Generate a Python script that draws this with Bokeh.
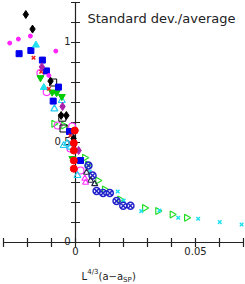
import numpy as np
from bokeh.plotting import figure
from bokeh.models import Range1d, Label
from bokeh.core.properties import value
from bokeh.embed import file_html
from bokeh.resources import INLINE

# ---------------- data ----------------
x_ticks = [-0.03, -0.02, -0.01, 0.0, 0.01, 0.02, 0.03, 0.04, 0.05, 0.06, 0.07]
y_ticks = [0.0, 0.1, 0.2, 0.3, 0.4, 0.5, 0.6, 0.7, 0.8, 0.9, 1.0, 1.1, 1.2]
x_label_pos = [0.0, 0.05]
x_label_txt = ["0", "0.05"]
y_label_pos = [0.0, 0.5, 1.0]
y_label_txt = ["0", "0.5", "1"]

black_diamond_x = [-0.0207, -0.0179, -0.0104, -0.0060, -0.0038, -0.0008]
black_diamond_y = [1.14, 1.067, 0.807, 0.635, 0.635, 0.52]

magenta_star_x = [-0.0274, -0.0238, -0.0188, -0.0082, -0.0111]
magenta_star_y = [0.997, 1.017, 1.032, 0.957, 0.835]

blue_square_x = [-0.0235, -0.0186, -0.0138, -0.0121, -0.0071, -0.0093, -0.0025, 0.0021]
blue_square_y = [0.944, 0.96, 0.912, 0.858, 0.777, 0.707, 0.555, 0.41]

cyan_tri_x = [-0.0165, -0.0132]
cyan_tri_y = [0.987, 0.775]

red_x_x = [-0.0175, -0.0143, -0.0111, -0.0021]
red_x_y = [0.924, 0.854, 0.769, 0.535]

purple_diamond_x = [-0.0140, -0.0054, 0.0013]
purple_diamond_y = [0.878, 0.68, 0.46]

magenta_circle_x = [-0.0146, -0.0120, -0.0074, -0.0014, -0.0021, 0.0021]
magenta_circle_y = [0.847, 0.752, 0.585, 0.58, 0.47, 0.36]

green_tri_down_x = [-0.0146, -0.0097, -0.0079, -0.0057, -0.0013]
green_tri_down_y = [0.824, 0.752, 0.749, 0.73, 0.42]

cyan_tri_open_x = [-0.0057, -0.0088, -0.0035, -0.0049, -0.0021, 0.0008]
cyan_tri_open_y = [0.71, 0.668, 0.494, 0.485, 0.477, 0.335]

black_square_open_x = [-0.0093, -0.0055, -0.0050]
black_square_open_y = [0.80, 0.624, 0.57]

green_tri_right_x = [-0.0090, -0.0049, 0.0038, 0.0051, 0.0093, 0.0121, 0.0185, 0.0288, 0.0343, 0.0403, 0.0463]
green_tri_right_y = [0.594, 0.585, 0.424, 0.39, 0.31, 0.265, 0.215, 0.173, 0.157, 0.14, 0.124]

cyan_x_x = [0.0060, 0.0176, 0.0201, 0.0274, 0.0350, 0.0428, 0.0511, 0.0601, 0.0692]
cyan_x_y = [0.355, 0.255, 0.21, 0.157, 0.16, 0.124, 0.119, 0.102, 0.09]

blue_circle_x_x = [0.0054, 0.0071, 0.0088, 0.0115, 0.0143, 0.0171, 0.0199, 0.0229]
blue_circle_x_y = [0.385, 0.335, 0.257, 0.247, 0.247, 0.207, 0.184, 0.184]

red_circle_x = [-0.0003, -0.0007, -0.0007, -0.0007, -0.0007]
red_circle_y = [0.56, 0.497, 0.46, 0.41, 0.369]

dark_tri_x = [0.0046, 0.0063, 0.0080]
dark_tri_y = [0.35, 0.31, 0.293]

magenta_tri_x = [0.0039, 0.0042]
magenta_tri_y = [0.32, 0.30]

# ---------------- figure ----------------
W, H = 245, 284
p = figure(width=W, height=H, output_backend="svg", toolbar_location=None,
           x_axis_type=None, y_axis_type=None, min_border=0,
           x_range=Range1d(-0.03125, 0.070833), y_range=Range1d(-0.21, 1.21))
p.outline_line_color = None
p.grid.visible = False
p.background_fill_color = "white"

FONT = value("DejaVu Sans")
AX = "#222222"

# axes lines through origin
p.segment(x0=[x_ticks[0], 0.0], y0=[0.0, 0.0], x1=[x_ticks[-1], 0.0], y1=[0.0, y_ticks[-1]],
          line_color=AX, line_width=1.2)
# crossing tick marks
p.scatter(x=[0.0] * len(y_ticks), y=y_ticks, marker="dash", size=9, line_color=AX, line_width=1.2)
p.scatter(x=x_ticks, y=[0.0] * len(x_ticks), marker="dash", angle=np.pi / 2, size=9,
          line_color=AX, line_width=1.2)

# tick labels
p.text(x=[0.0] * len(y_label_pos), y=y_label_pos, text=y_label_txt, text_align="right",
       text_baseline="middle", x_offset=-5, y_offset=-2, text_font=FONT,
       text_font_size="10px", text_color="#222222")
p.text(x=x_label_pos, y=[0.0] * len(x_label_pos), text=x_label_txt, text_align="center",
       text_baseline="top", y_offset=4, text_font=FONT, text_font_size="10px", text_color="#222222")

# ---------------- data marks ----------------
p.scatter(green_tri_right_x, green_tri_right_y, marker="triangle", angle=-np.pi / 2, size=7,
          fill_color=None, line_color="#22dd22", line_width=1.2)
p.scatter(cyan_x_x, cyan_x_y, marker="x", size=5, line_color="#22e0f0", line_width=1.5)
p.scatter(blue_circle_x_x, blue_circle_x_y, marker="circle_x", size=7, fill_color=None,
          line_color="#2222cc", line_width=1.5)
p.scatter(magenta_circle_x, magenta_circle_y, marker="circle", size=7, fill_color=None,
          line_color="#ff33ff", line_width=1.2)
p.scatter(cyan_tri_open_x, cyan_tri_open_y, marker="triangle", size=7, fill_color=None,
          line_color="#22ccee", line_width=1.2)
p.scatter(black_square_open_x, black_square_open_y, marker="square", size=7, fill_color=None,
          line_color="black", line_width=1.0)
p.scatter(dark_tri_x, dark_tri_y, marker="triangle", size=6, fill_color=None,
          line_color="#222244", line_width=1.2)
p.scatter(magenta_tri_x, magenta_tri_y, marker="triangle", size=6, fill_color=None,
          line_color="#ff33ff", line_width=1.2)
p.scatter(green_tri_down_x, green_tri_down_y, marker="inverted_triangle", size=7,
          fill_color="#00cc00", line_color="#00cc00")
p.scatter(blue_square_x, blue_square_y, marker="square", size=6, fill_color="#0000ee",
          line_color="#0000ee")
p.scatter(cyan_tri_x, cyan_tri_y, marker="triangle", size=7, fill_color="#22e0f0",
          line_color="#22e0f0")
p.scatter(red_x_x, red_x_y, marker="x", size=5, line_color="#ee2222", line_width=1.5)
p.scatter(purple_diamond_x, purple_diamond_y, marker="diamond", size=8, fill_color="#aa22aa",
          line_color="#aa22aa")
p.scatter(black_diamond_x, black_diamond_y, marker="diamond", size=8, fill_color="black",
          line_color="black")
p.scatter(magenta_star_x, magenta_star_y, marker="circle", size=4, fill_color="#ff22ff",
          line_color="#ff22ff")
p.scatter(red_circle_x, red_circle_y, marker="circle", size=7, fill_color="#ff0000",
          line_color="#ff0000")

# ---------------- texts ----------------
p.add_layout(Label(x=87, y=H - 17.5, x_units="screen", y_units="screen",
                   text="Standard dev./average", text_font="DejaVu Sans", text_font_size="13px",
                   text_baseline="alphabetic", text_color="#222222"))

# x-axis label: L^{4/3}(a-a_SP)
parts = [("L", 81.0, 276.0, "10px"), ("4/3", 86.8, 271.5, "7px"), ("(a\u2212a", 98.0, 276.0, "10px"),
         ("SP", 122.6, 279.0, "7px"), (")", 131.5, 276.0, "10px")]
for t, xx, yy, fs in parts:
    p.add_layout(Label(x=xx, y=H - yy, x_units="screen", y_units="screen", text=t,
                       text_font="DejaVu Sans", text_font_size=fs, text_baseline="alphabetic",
                       text_color="#222222"))

html = file_html(p, INLINE)
html = html.replace("</head>", "<style>html,body{margin:0;padding:0;}</style></head>", 1)
open("out.html", "w").write(html)
